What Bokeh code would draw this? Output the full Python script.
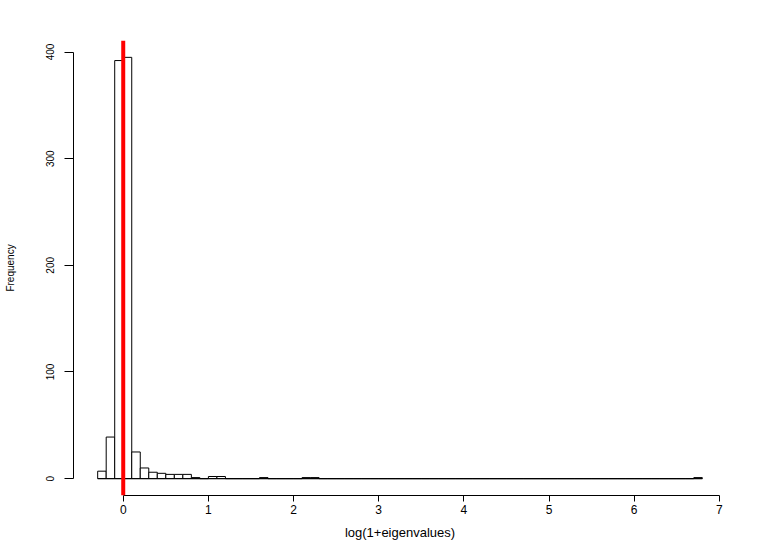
from bokeh.plotting import figure
from bokeh.models import Range1d, FixedTicker, Span
from bokeh.embed import file_html
from bokeh.resources import INLINE

# histogram of log(1+eigenvalues): bins of width 0.1 starting at -0.3
bin_start = -0.3
bin_width = 0.1
counts = [
    7, 39, 392, 395, 25, 10, 6, 5, 4, 4,
    4, 1, 0, 2, 2, 0, 0, 0, 0, 1,
    0, 0, 0, 0, 1, 1, 0, 0, 0, 0,
    0, 0, 0, 0, 0, 0, 0, 0, 0, 0,
    0, 0, 0, 0, 0, 0, 0, 0, 0, 0,
    0, 0, 0, 0, 0, 0, 0, 0, 0, 0,
    0, 0, 0, 0, 0, 0, 0, 0, 0, 0,
    1,
]
x_ticks = [0, 1, 2, 3, 4, 5, 6, 7]
y_ticks = [0, 100, 200, 300, 400]
vline_at = 0
x_label = "log(1+eigenvalues)"
y_label = "Frequency"

n = len(counts)
lefts = [round(bin_start + i * bin_width, 10) for i in range(n)]
rights = [round(bin_start + (i + 1) * bin_width, 10) for i in range(n)]

xlo, xhi = lefts[0], rights[-1]
xpad = 0.04 * (xhi - xlo)
ylo, yhi = 0, max(counts)
ypad = 0.04 * (yhi - ylo)

p = figure(
    frame_width=653, frame_height=455,
    x_range=Range1d(xlo - xpad, xhi + xpad),
    y_range=Range1d(ylo - ypad, yhi + ypad),
    output_backend="svg", toolbar_location=None,
    min_border_left=73, min_border_right=28,
    min_border_top=40, min_border_bottom=46,
)
p.outline_line_color = None
p.grid.visible = False
p.background_fill_color = "white"
p.border_fill_color = "white"

p.quad(left=lefts, right=rights, top=counts, bottom=0,
       fill_color="white", line_color="black", line_width=1)
p.segment(x0=[xlo], x1=[xhi], y0=[0], y1=[0], line_color="black", line_width=1)

p.add_layout(Span(location=vline_at, dimension="height",
                  line_color="red", line_width=4))

font = "Liberation Sans"
xa = p.xaxis[0]
xa.ticker = FixedTicker(ticks=x_ticks)
xa.bounds = (x_ticks[0], x_ticks[-1])
xa.minor_tick_line_color = None
xa.major_tick_in = 0
xa.major_tick_out = 6
xa.major_label_standoff = 3
xa.axis_label = x_label
xa.axis_label_standoff = 8
xa.axis_label_text_font_style = "normal"
xa.axis_label_text_font = font
xa.axis_label_text_font_size = "13px"
xa.major_label_text_font = font
xa.major_label_text_font_size = "12px"
xa.axis_line_color = "black"
xa.major_tick_line_color = "black"
xa.major_label_text_color = "black"
xa.axis_label_text_color = "black"

ya = p.yaxis[0]
ya.ticker = FixedTicker(ticks=y_ticks)
ya.bounds = (y_ticks[0], y_ticks[-1])
ya.minor_tick_line_color = None
ya.major_tick_in = 0
ya.major_tick_out = 9
ya.major_label_standoff = 10
ya.major_label_orientation = "vertical"
ya.axis_label = y_label
ya.axis_label_standoff = 28
ya.axis_label_text_font_style = "normal"
ya.axis_label_text_font = font
ya.axis_label_text_font_size = "10px"
ya.major_label_text_font = font
ya.major_label_text_font_size = "10px"
ya.axis_line_color = "black"
ya.major_tick_line_color = "black"
ya.major_label_text_color = "black"
ya.axis_label_text_color = "black"

open("out.html", "w").write(file_html(p, INLINE))
